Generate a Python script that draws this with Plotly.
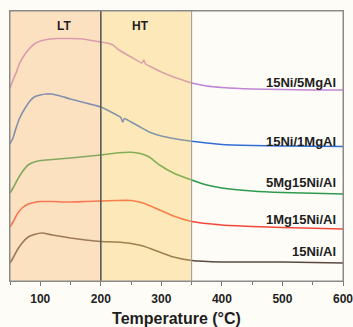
import plotly.graph_objects as go

# Temperature (°C) and signal (a.u.) for each sample
t_5mg = [50, 55, 60, 66, 75, 83, 90, 100, 116, 130, 150, 170, 185, 200, 210, 220, 230, 250, 268, 271, 274, 280, 300, 320, 340, 350, 375, 400, 450, 500, 550, 600]
y_5mg = [193, 201, 208, 218, 227, 233, 237, 240, 242, 242.5, 242.5, 242, 240.5, 239, 238, 236, 231, 224, 218, 221, 217, 215, 209, 204, 200, 198, 195, 193.5, 192, 191.5, 191, 191]

t_1mg = [50, 55, 60, 66, 75, 83, 90, 100, 110, 118, 130, 150, 175, 200, 220, 233, 236, 239, 250, 265, 280, 300, 320, 347, 375, 400, 450, 500, 600]
y_1mg = [137, 143, 153, 163, 173, 180, 184, 186, 187, 187, 185.5, 182, 178, 174, 168, 163.5, 159, 162.5, 159, 154, 149, 145, 142.5, 140, 138, 136.5, 135.5, 135, 134.5]

t_5mg15 = [50, 55, 62, 70, 80, 90, 100, 120, 150, 175, 200, 225, 250, 265, 280, 297, 320, 350, 375, 400, 450, 500, 600]
y_5mg15 = [88, 93, 101, 109, 116, 119, 120.5, 121.5, 123, 124.5, 126, 128, 128.7, 127.5, 124, 116, 108, 101, 96, 93, 90, 88.5, 87]

t_1mg15 = [50, 55, 62, 70, 80, 90, 100, 120, 150, 175, 200, 225, 250, 270, 297, 320, 350, 400, 450, 500, 600]
y_1mg15 = [54, 59, 67, 73, 77, 78.5, 79.5, 79.5, 79, 79.5, 80, 80.5, 80.5, 78, 71, 65, 59.5, 56, 54.5, 53.5, 52]

t_ni = [50, 55, 62, 70, 80, 90, 103, 120, 150, 175, 200, 225, 250, 270, 297, 320, 350, 400, 500, 600]
y_ni = [18, 23, 31, 38, 44, 46.5, 48, 46, 43, 41, 39.5, 39, 37.5, 35, 29, 24, 20.5, 19, 19, 18]

names = ["15Ni/5MgAl", "15Ni/1MgAl", "5Mg15Ni/Al", "1Mg15Ni/Al", "15Ni/Al"]
colors = ["#c184d6", "#2f6fd6", "#2e9a4e", "#f2483a", "#5a4a3e"]
label_y = [198.5, 140, 98.5, 62, 29.5]
xs = [t_5mg, t_1mg, t_5mg15, t_1mg15, t_ni]
ys = [y_5mg, y_1mg, y_5mg15, y_1mg15, y_ni]

x_ticks = [100, 200, 300, 400, 500, 600]
regions = [("LT", 50, 200, 139), ("HT", 200, 350, 266)]

fig = go.Figure()
for x, y, n, c in zip(xs, ys, names, colors):
    fig.add_trace(go.Scatter(x=x, y=y, mode="lines", name=n,
                             line=dict(color=c, width=1.6, shape="spline", smoothing=0.5)))

fills = ["rgba(250,188,120,0.42)", "rgba(253,204,100,0.42)"]
for (lab, a, b, lx), f in zip(regions, fills):
    fig.add_shape(type="rect", x0=a, x1=b, y0=0, y1=270, xref="x", yref="y",
                  fillcolor=f, line=dict(width=0), layer="above")
    fig.add_annotation(x=lx, y=255, text="<b>%s</b>" % lab,
                       showarrow=False, font=dict(size=12, color="#1e1e1e",
                                                  family="Liberation Sans, Arial"))
fig.add_shape(type="line", x0=200, x1=200, y0=0, y1=270, xref="x", yref="y",
              line=dict(color="#5a5a5a", width=1.6), layer="above")
fig.add_shape(type="line", x0=350, x1=350, y0=0, y1=270, xref="x", yref="y",
              line=dict(color="#9a9a9a", width=1), layer="above")
fig.add_shape(type="rect", x0=0, x1=1, y0=0, y1=1, xref="paper", yref="paper",
              line=dict(color="#8a8a8a", width=1), fillcolor="rgba(0,0,0,0)", layer="above")

for n, ly in zip(names, label_y):
    fig.add_annotation(x=591, y=ly, text="<b>%s</b>" % n, showarrow=False, xanchor="right",
                       yanchor="middle", font=dict(size=13, color="#1e1e1e",
                                                   family="Liberation Sans, Arial"))

fig.update_layout(
    width=353, height=327, margin=dict(l=10, r=10, t=11, b=46),
    paper_bgcolor="#fdfcf6", plot_bgcolor="#fdfcf6", showlegend=False,
    font=dict(family="Liberation Sans, Arial", color="#1e1e1e"),
)
fig.update_xaxes(range=[50, 600], tickvals=x_ticks, ticktext=["<b>%d</b>" % v for v in x_ticks],
                 ticks="outside", ticklen=4, tickcolor="#777777", tickfont=dict(size=12),
                 ticklabelstandoff=3, automargin=False, ticklabeloverflow="allow",
                 minor=dict(dtick=50, tick0=50, ticks="outside", ticklen=3, tickcolor="#777777"),
                 showline=True, linecolor="#8a8a8a", linewidth=1, mirror=True, showgrid=False,
                 zeroline=False,
                 title=dict(text="<b>Temperature (°C)</b>", font=dict(size=16), standoff=8))
fig.update_yaxes(range=[0, 270], showticklabels=False, ticks="", showgrid=False, zeroline=False,
                 showline=True, linecolor="#8a8a8a", linewidth=1, mirror=True, automargin=False)

fig.write_html("out.html")
